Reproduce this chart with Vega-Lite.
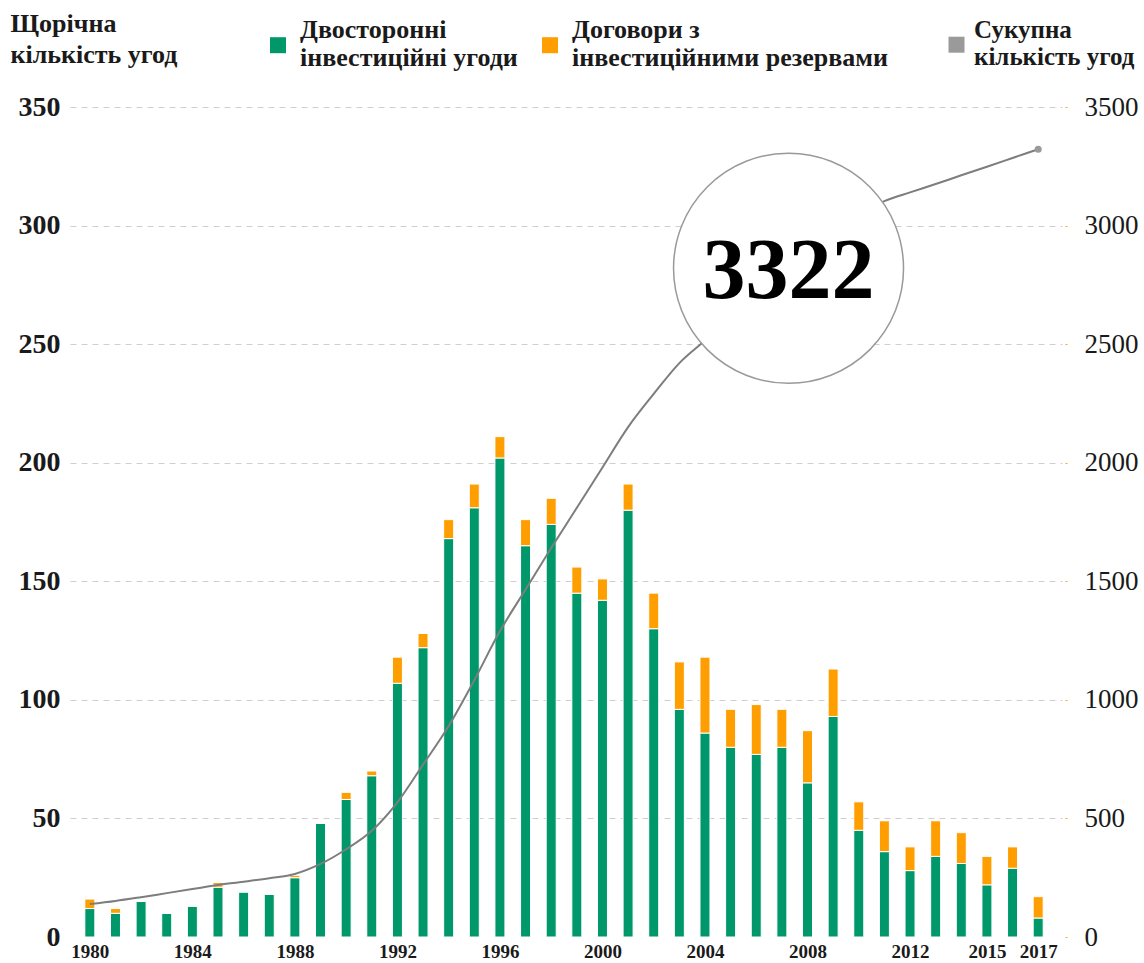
{
  "$schema": "https://vega.github.io/schema/vega-lite/v6.json",
  "width": 992,
  "height": 830,
  "autosize": {"type": "none"},
  "padding": {"left": 70, "top": 107, "right": 82, "bottom": 26},
  "background": "white",
  "config": {"font": "Liberation Serif", "view": {"stroke": null}},
  "data": {
    "values": [
      {"year": 1980, "bilateral": 12, "provisions": 4, "total": 139},
      {"year": 1981, "bilateral": 10, "provisions": 2, "total": 152},
      {"year": 1982, "bilateral": 15, "provisions": 0, "total": 168},
      {"year": 1983, "bilateral": 10, "provisions": 0, "total": 185},
      {"year": 1984, "bilateral": 13, "provisions": 0, "total": 202},
      {"year": 1985, "bilateral": 21, "provisions": 2, "total": 219},
      {"year": 1986, "bilateral": 19, "provisions": 0, "total": 233},
      {"year": 1987, "bilateral": 18, "provisions": 0, "total": 248},
      {"year": 1988, "bilateral": 25, "provisions": 1, "total": 266},
      {"year": 1989, "bilateral": 48, "provisions": 0, "total": 308},
      {"year": 1990, "bilateral": 58, "provisions": 3, "total": 370},
      {"year": 1991, "bilateral": 68, "provisions": 2, "total": 448},
      {"year": 1992, "bilateral": 107, "provisions": 11, "total": 568},
      {"year": 1993, "bilateral": 122, "provisions": 6, "total": 727},
      {"year": 1994, "bilateral": 168, "provisions": 8, "total": 890},
      {"year": 1995, "bilateral": 181, "provisions": 10, "total": 1083},
      {"year": 1996, "bilateral": 202, "provisions": 9, "total": 1290},
      {"year": 1997, "bilateral": 165, "provisions": 11, "total": 1465},
      {"year": 1998, "bilateral": 174, "provisions": 11, "total": 1640},
      {"year": 1999, "bilateral": 145, "provisions": 11, "total": 1810},
      {"year": 2000, "bilateral": 142, "provisions": 9, "total": 1980},
      {"year": 2001, "bilateral": 180, "provisions": 11, "total": 2150},
      {"year": 2002, "bilateral": 130, "provisions": 15, "total": 2290},
      {"year": 2003, "bilateral": 96, "provisions": 20, "total": 2420},
      {"year": 2004, "bilateral": 86, "provisions": 32, "total": 2515},
      {"year": 2005, "bilateral": 80, "provisions": 16, "total": 2610},
      {"year": 2006, "bilateral": 77, "provisions": 21, "total": 2710},
      {"year": 2007, "bilateral": 80, "provisions": 16, "total": 2800},
      {"year": 2008, "bilateral": 65, "provisions": 22, "total": 2890},
      {"year": 2009, "bilateral": 93, "provisions": 20, "total": 2980},
      {"year": 2010, "bilateral": 45, "provisions": 12, "total": 3050},
      {"year": 2011, "bilateral": 36, "provisions": 13, "total": 3103},
      {"year": 2012, "bilateral": 28, "provisions": 10, "total": 3140},
      {"year": 2013, "bilateral": 34, "provisions": 15, "total": 3175},
      {"year": 2014, "bilateral": 31, "provisions": 13, "total": 3212},
      {"year": 2015, "bilateral": 22, "provisions": 12, "total": 3248},
      {"year": 2016, "bilateral": 29, "provisions": 9, "total": 3285},
      {"year": 2017, "bilateral": 8, "provisions": 9, "total": 3322}
    ]
  },
  "layer": [
    {
      "transform": [{"fold": ["bilateral", "provisions"], "as": ["type", "count"]}],
      "mark": {"type": "bar", "size": 10, "stroke": "white", "strokeWidth": 1},
      "encoding": {
        "x": {
          "field": "year", "type": "quantitative",
          "scale": {"domain": [1979.421, 2017.734], "nice": false, "zero": false},
          "axis": {
            "title": null,
            "values": [1980, 1984, 1988, 1992, 1996, 2000, 2004, 2008, 2012, 2015, 2017],
            "format": "d",
            "labelFont": "Liberation Serif",
            "labelFontSize": 19,
            "labelFontWeight": "bold",
            "labelColor": "#1a1a1a",
            "labelPadding": 5,
            "labelFlush": false,
            "labelOverlap": false,
            "ticks": false,
            "domain": false,
            "grid": false
          }
        },
        "y": {
          "field": "count", "type": "quantitative", "stack": "zero",
          "scale": {"domain": [0, 350], "nice": false},
          "axis": {
            "title": ["Щорічна", "кількість угод"],
            "titleAngle": 0,
            "titleAlign": "left",
            "titleBaseline": "top",
            "titleX": -60,
            "titleY": -97,
            "titleFont": "Liberation Serif",
            "titleFontSize": 26,
            "titleFontWeight": "bold",
            "titleColor": "#1a1a1a",
            "titleLineHeight": 31,
            "values": [0, 50, 100, 150, 200, 250, 300, 350],
            "labelFont": "Liberation Serif",
            "labelFontSize": 28,
            "labelFontWeight": "bold",
            "labelColor": "#1a1a1a",
            "labelPadding": 10,
            "ticks": false,
            "domain": false,
            "grid": true,
            "gridDash": [6, 5],
            "gridColor": "#cfcfcf",
            "gridOpacity": {"condition": {"test": "datum.value == 0", "value": 0}, "value": 1}
          }
        },
        "color": {
          "field": "type", "type": "nominal",
          "scale": {"domain": ["bilateral", "provisions"], "range": ["#00986B", "#FF9E00"]},
          "legend": {
            "title": null,
            "orient": "none",
            "legendX": 195,
            "legendY": -90,
            "direction": "horizontal",
            "symbolType": "M-1,0.9L1,0.9L1,2.9L-1,2.9Z",
            "symbolSize": 256,
            "symbolStrokeWidth": 0,
            "labelFont": "Liberation Serif",
            "labelFontSize": 26,
            "labelFontWeight": "bold",
            "labelColor": "#1a1a1a",
            "labelOffset": 9,
            "labelLimit": 500,
            "columnPadding": 19,
            "labelExpr": "datum.label == 'bilateral' ? ['Двосторонні', 'інвестиційні угоди'] : ['Договори з', 'інвестиційними резервами']",
            "encode": {"labels": {"update": {"lineHeight": {"value": 30}}}}
          }
        },
        "order": {"field": "type", "sort": "ascending"}
      }
    },
    {
      "mark": {"type": "line", "color": "#7d7d7d", "strokeWidth": 2, "interpolate": "monotone"},
      "encoding": {
        "x": {"field": "year", "type": "quantitative", "scale": {"domain": [1979.421, 2017.734], "nice": false, "zero": false}},
        "y": {
          "field": "total", "type": "quantitative",
          "scale": {"domain": [0, 3500], "nice": false},
          "axis": {
            "orient": "right",
            "title": null,
            "values": [0, 500, 1000, 1500, 2000, 2500, 3000, 3500],
            "format": "d",
            "labelFont": "Liberation Serif",
            "labelFontSize": 27,
            "labelColor": "#1a1a1a",
            "labelAlign": "left",
            "labelPadding": 15,
            "offset": 3,
            "tickColor": "#F5A623",
            "tickSize": 4,
            "tickDash": [2, 2],
            "domain": false,
            "grid": false
          }
        }
      }
    },
    {
      "transform": [{"filter": "datum.year == 2017"}],
      "mark": {"type": "point", "filled": true, "size": 50, "opacity": 1},
      "encoding": {
        "x": {"field": "year", "type": "quantitative", "scale": {"domain": [1979.421, 2017.734], "nice": false, "zero": false}},
        "y": {"field": "total", "type": "quantitative", "scale": {"domain": [0, 3500], "nice": false}, "axis": null},
        "fill": {
          "datum": "total",
          "type": "nominal",
          "scale": {"domain": ["total"], "range": ["#9a9a9a"]},
          "legend": {
            "title": null,
            "orient": "none",
            "legendX": 874,
            "legendY": -90,
            "symbolType": "M-1,0.9L1,0.9L1,2.9L-1,2.9Z",
            "symbolSize": 256,
            "symbolStrokeWidth": 0,
            "labelFont": "Liberation Serif",
            "labelFontSize": 25,
            "labelFontWeight": "bold",
            "labelColor": "#1a1a1a",
            "labelOffset": 5,
            "labelLimit": 500,
            "labelExpr": "['Сукупна', 'кількість угод']",
            "encode": {"labels": {"update": {"lineHeight": {"value": 30}}}}
          }
        }
      }
    },
    {
      "data": {"values": [{"year": 2007.26, "total": 2820, "label": "3322"}]},
      "layer": [
        {
          "mark": {"type": "point", "shape": "circle", "size": 52900, "filled": true, "fill": "white", "stroke": "#999999", "strokeWidth": 1.5, "opacity": 1},
          "encoding": {
            "x": {"field": "year", "type": "quantitative", "scale": {"domain": [1979.421, 2017.734], "nice": false, "zero": false}},
            "y": {"field": "total", "type": "quantitative", "scale": {"domain": [0, 3500], "nice": false}, "axis": null}
          }
        },
        {
          "mark": {"type": "text", "font": "Liberation Serif", "fontSize": 86, "fontWeight": "bold", "color": "#000000", "baseline": "middle", "align": "center", "dy": 4},
          "encoding": {
            "x": {"field": "year", "type": "quantitative", "scale": {"domain": [1979.421, 2017.734], "nice": false, "zero": false}},
            "y": {"field": "total", "type": "quantitative", "scale": {"domain": [0, 3500], "nice": false}, "axis": null},
            "text": {"field": "label"}
          }
        }
      ]
    }
  ],
  "resolve": {"scale": {"y": "independent"}}
}
